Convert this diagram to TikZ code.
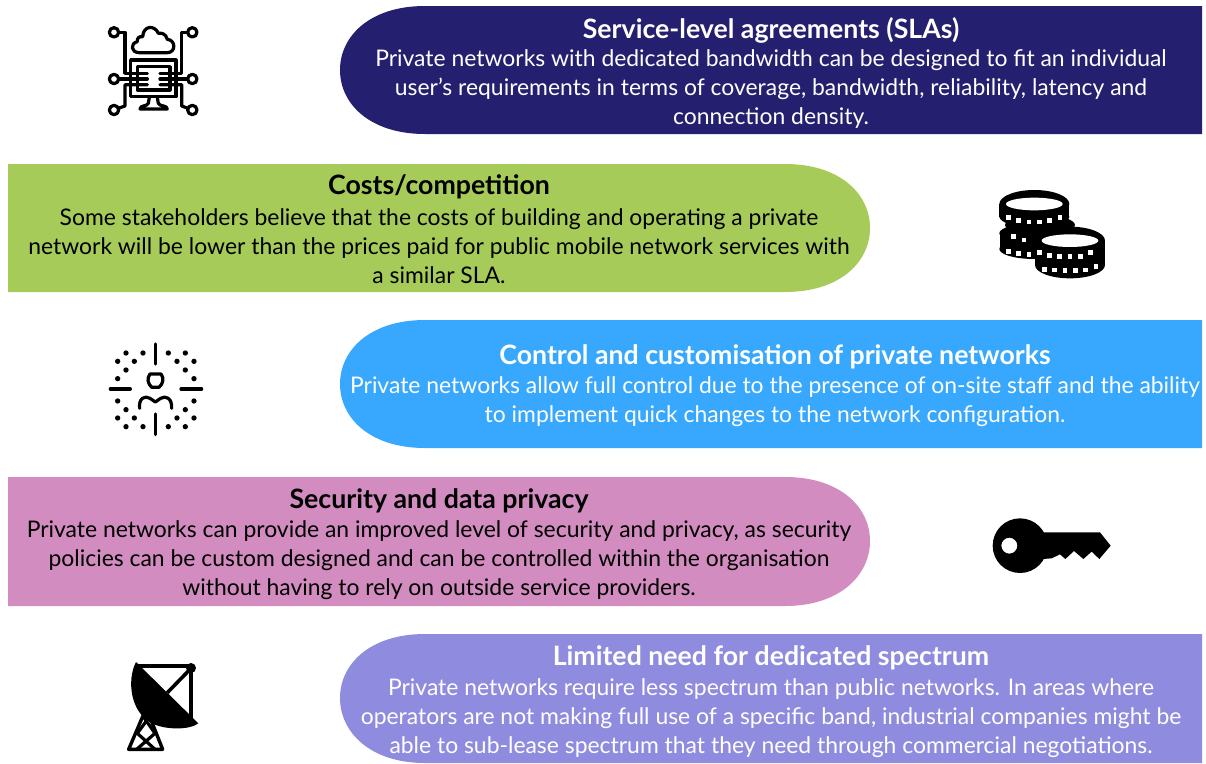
\documentclass[tikz,border=0pt]{standalone}
\usepackage{fontspec}
\setmainfont{Lato}
\definecolor{navy}{HTML}{241F6F}
\definecolor{leaf}{HTML}{A6CB58}
\definecolor{sky}{HTML}{38A8FE}
\definecolor{rose}{HTML}{D28CC0}
\definecolor{lilac}{HTML}{8F8BDF}
\tikzset{
 bodytext/.style={align=center,inner sep=0pt,font=\fontsize{22.9}{29}\selectfont},
 headtext/.style={inner sep=0pt,font=\fontsize{26.7}{29}\selectfont\bfseries},
 iconline/.style={line width=3.2pt,black,line cap=round,line join=round},
 persondot/.style={black},
}
\newcommand{\panelL}[4]{\fill[#4] (1202,#1) -- (#2+85,#1) .. controls (#2+30,#1) and (#2,#1+30) .. (#2,#1+64) .. controls (#2,#1+98) and (#2+30,#3) .. (#2+85,#3) -- (1202,#3) -- cycle;}
\newcommand{\panelR}[4]{\fill[#4] (8,#1) -- (#2-85,#1) .. controls (#2-30,#1) and (#2,#1+30) .. (#2,#1+64) .. controls (#2,#1+98) and (#2-30,#3) .. (#2-85,#3) -- (8,#3) -- cycle;}
\begin{document}
\begin{tikzpicture}[x=1pt,y=-1pt]
\useasboundingbox (0,0) rectangle (1206,763);
\fill[white] (0,0) rectangle (1206,763);
\panelL{6}{340}{134}{navy}
\panelR{164}{870}{292}{leaf}
\panelL{320}{340}{448}{sky}
\panelR{477}{870}{606}{rose}
\panelL{634}{340}{763}{lilac}

\node[headtext,white] (t1) at (771,30) {Service-level agreements (SLAs)};
\node[bodytext,white] (b1) at (771,89) {Private networks with dedicated bandwidth can be designed to fit an individual\\user’s requirements in terms of coverage, bandwidth, reliability, latency and\\connection density.};
\node[headtext,black] (t2) at (439,187) {Costs/competition};
\node[bodytext,black] (b2) at (439,246) {Some stakeholders believe that the costs of building and operating a private\\network will be lower than the prices paid for public mobile network services with\\a similar SLA.};
\node[headtext,white] (t3) at (775,357) {Control and customisation of private networks};
\node[bodytext,white] (b3) at (775,402) {Private networks allow full control due to the presence of on-site staff and the ability\\to implement quick changes to the network configuration.};
\node[headtext,black] (t4) at (439,501) {Security and data privacy};
\node[bodytext,black] (b4) at (439,560) {Private networks can provide an improved level of security and privacy, as security\\policies can be custom designed and can be controlled within the organisation\\without having to rely on outside service providers.};
\node[headtext,white] (t5) at (771,658) {Limited need for dedicated spectrum};
\node[bodytext,white] (b5) at (771,718) {Private networks require less spectrum than public networks. In areas where\\operators are not making full use of a specific band, industrial companies might be\\able to sub-lease spectrum that they need through commercial negotiations.};

% icon: cloud computer
\begin{scope}[shift={(90,10)},x=0.3333pt,y=-0.3333pt]
\draw[iconline] (72,67) circle (14) (307,67) circle (14) (72,207) circle (14) (307,207) circle (14) (72,300) circle (14) (307,300) circle (14);
\draw[iconline] (122,150) rectangle (258,260);
\draw[iconline] (142,170) rectangle (240,240);
\draw[iconline] (86,67) -- (105,67) -- (105,190) -- (172,190);
\draw[iconline] (293,67) -- (275,67) -- (275,190) -- (210,190);
\draw[iconline] (86,207) -- (172,207) (210,207) -- (293,207);
\draw[iconline] (85,295) -- (105,288) -- (105,224) -- (172,224);
\draw[iconline] (294,295) -- (275,288) -- (275,224) -- (210,224);
\draw[iconline] (148,128) -- (232,128) .. controls (258,128) and (258,90) .. (232,88) .. controls (228,70) and (212,68) .. (205,70) .. controls (195,45) and (160,45) .. (158,80) .. controls (148,78) and (140,85) .. (142,95) .. controls (120,100) and (122,128) .. (148,128) -- cycle;
\draw[iconline] (178,262) -- (175,280) .. controls (172,290) and (150,285) .. (150,297) -- (232,297) .. controls (232,285) and (208,290) .. (205,280) -- (202,262);
\end{scope}

% icon: coins
\begin{scope}[shift={(980,175)},x=0.3333pt,y=-0.3333pt]
\fill[black] (163,87) ellipse (105 and 42);
\fill[black] (58,87) rectangle (268,125);
\fill[black] (163,125) ellipse (105 and 32);
\fill[black] (180,150) ellipse (105 and 30);
\fill[black] (60,175) rectangle (230,222);
\fill[black] (163,175) ellipse (105 and 30);
\fill[black] (163,222) ellipse (105 and 30);
\fill[black] (270,197) ellipse (105 and 42);
\fill[black] (165,197) rectangle (375,270);
\fill[black] (270,270) ellipse (105 and 40);
\fill[white] (163,87) ellipse (85 and 19);
\fill[white] (270,197) ellipse (85 and 19);
\foreach \p in {(85,127),(116,137),(147,141),(178,141),(209,137),(240,127),(100,185),(132,195),(85,229),(116,235),(147,239),(178,232),(208,241),(239,245),(270,245),(301,245),(332,232),(193,283),(224,285),(255,287),(286,287),(317,285),(348,275)}
  \fill[white] \p +(-7,-7) rectangle +(7,7);
\end{scope}

% icon: person
\begin{scope}[shift={(95,330)},x=0.3333pt,y=-0.3333pt]
\draw[iconline] (181,42) -- (181,102) (181,252) -- (181,314) (46,177) -- (106,177) (258,177) -- (320,177);
\foreach \p in {(93,69),(144,69),(220,69),(271,69),(68,94),(118,94),(246,94),(297,94),(93,120),(271,120),(68,146),(297,146),(68,213),(297,213),(93,239),(271,239),(68,264),(118,264),(246,264),(297,264),(93,290),(144,290),(220,290),(271,290)}
  \fill[persondot] \p circle (8);
\draw[iconline] (165,132) -- (198,132) .. controls (208,145) and (205,160) .. (192,172) -- (170,172) .. controls (158,160) and (155,145) .. (165,132) -- cycle;
\draw[iconline] (134,235) .. controls (130,205) and (150,195) .. (165,205) -- (181,216) -- (197,205) .. controls (212,195) and (232,205) .. (230,235);
\end{scope}

% icon: key
\begin{scope}[shift={(980,505)},x=0.3333pt,y=-0.3333pt]
\fill[black,even odd rule] (120,122) circle (82) (88,122) circle (24);
\fill[black] (150,82) -- (360,82) -- (392,122) -- (358,162) -- (335,140) -- (310,162) -- (282,138) -- (256,162) -- (240,148) -- (215,160) -- (150,165) -- cycle;
\end{scope}

% icon: dish
\begin{scope}[shift={(110,650)},x=0.3333pt,y=-0.3333pt]
\draw[black,line width=3.6pt] (85,48) -- (243,48) -- (243,215);
\draw[black,line width=3.6pt] (243,55) -- (172,128);
\fill[black] (243,54) circle (15);
\fill[black] (78,36) .. controls (50,90) and (60,190) .. (130,222) .. controls (170,240) and (240,240) .. (265,220) -- cycle;
\draw[black,line width=3.4pt,line join=round] (100,195) -- (56,298) -- (158,298) -- (125,215);
\draw[black,line width=3.2pt] (100,200) -- (135,250) -- (80,298) (115,205) -- (82,250) -- (135,298);
\end{scope}
\end{tikzpicture}
\end{document}
